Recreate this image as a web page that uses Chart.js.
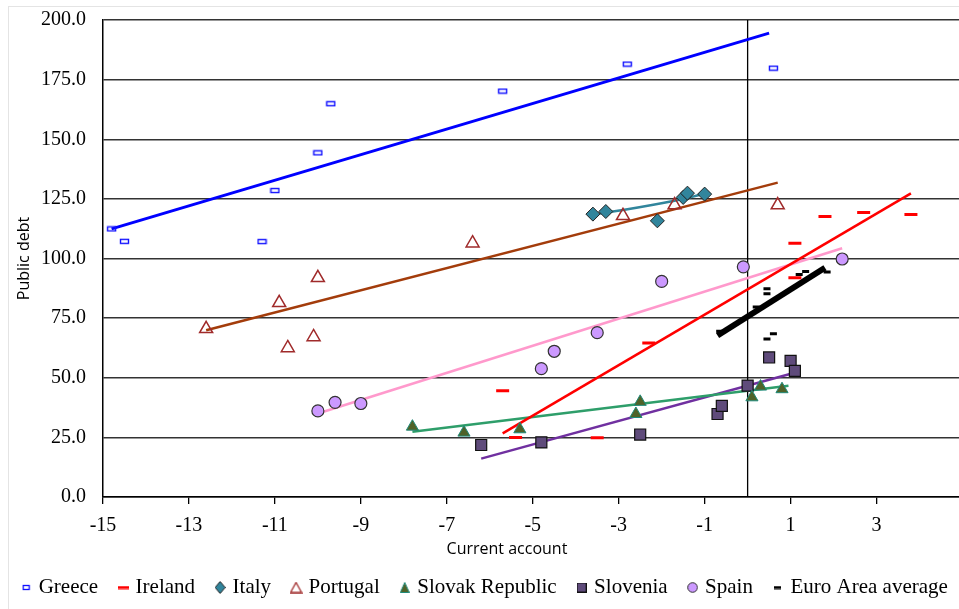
<!DOCTYPE html>
<html>
<head>
<meta charset="utf-8">
<script src="https://cdn.jsdelivr.net/npm/chart.js@4.4.1/dist/chart.umd.min.js"></script>
<style>
  html, body { margin: 0; padding: 0; background: #fff; }
  #canvasArea { position: relative; width: 959px; height: 609px; overflow: hidden; }
  #frame { position: absolute; left: 8px; top: 6px; width: 1000px; height: 700px; border: 1px solid #e4e4e4; }
  #graphCanvas { position: absolute; left: 0; top: 0; }
</style>
</head>
<body>
<div id="canvasArea"><div id="frame"></div><canvas id="graphCanvas" width="972" height="609"></canvas></div>
<script>
// values (current account, public debt)
var greeceX = [-14.8, -14.5, -11.3, -11.0, -10.0, -9.7, -5.7, -2.8, 0.6];
var greeceY = [112.4, 107.2, 107.1, 128.5, 144.3, 164.9, 170.2, 181.5, 179.8];
var greeceTrendX = [-14.8, 0.5];
var greeceTrendY = [112.4, 194.5];

var irelandX = [-5.7, -5.4, -3.5, -2.3, 1.1, 1.1, 1.8, 2.7, 3.8];
var irelandY = [44.6, 25.0, 24.8, 64.6, 106.4, 91.9, 117.6, 119.3, 118.4];
var irelandTrendX = [-5.7, 3.8];
var irelandTrendY = [26.7, 127.3];

var italyX = [-3.6, -3.3, -2.1, -1.5, -1.4, -1.0];
var italyY = [118.6, 119.7, 115.8, 125.6, 127.4, 127.0];
var italyTrendX = [-3.45, -2.9, -1.7, -1.1];
var italyTrendY = [118.9, 120.3, 124.2, 126.7];

var portugalX = [-12.6, -10.9, -10.7, -10.1, -10.0, -6.4, -2.9, -1.7, 0.7];
var portugalY = [70.5, 81.4, 62.5, 67.1, 91.9, 106.4, 117.9, 122.4, 122.4];
var portugalTrendX = [-12.6, 0.7];
var portugalTrendY = [69.9, 131.8];

var slovakX = [-7.8, -6.6, -5.3, -2.6, -2.5, 0.1, 0.3, 0.8];
var slovakY = [29.5, 27.0, 28.4, 34.8, 39.9, 41.8, 46.3, 45.2];
var slovakTrendX = [-7.8, 0.95];
var slovakTrendY = [27.4, 46.6];

var sloveniaX = [-6.2, -4.8, -2.5, -0.7, -0.6, 0.0, 0.5, 1.0, 1.1];
var sloveniaY = [21.8, 22.9, 26.2, 34.8, 38.2, 46.7, 58.5, 57.1, 52.9];
var sloveniaTrendX = [-6.2, 1.05];
var sloveniaTrendY = [16.1, 51.9];

var spainX = [-10.0, -9.6, -9.0, -4.8, -4.5, -3.5, -2.0, -0.1, 2.2];
var spainY = [36.1, 39.7, 39.2, 53.8, 61.1, 68.9, 90.4, 96.5, 99.8];
var spainTrendX = [-10.0, 2.2];
var spainTrendY = [35.0, 104.3];

var euroX = [-0.65, 0.2, 0.45, 0.45, 0.45, 0.6, 1.2, 1.35, 1.85];
var euroY = [69.5, 79.7, 87.3, 85.2, 66.2, 68.5, 93.3, 94.6, 94.3];
var euroTrendX = [-0.7, 1.8];
var euroTrendY = [67.7, 96.1];

var zeroLineX = [0, 0];
var zeroLineY = [0, 200];

var seriesNames = ["Greece", "Ireland", "Italy", "Portugal", "Slovak Republic", "Slovenia", "Spain", "Euro Area average"];
var xTickValues = [-15, -13, -11, -9, -7, -5, -3, -1, 1, 3];
var xTitle = "Current account";
var xTitleAt = -5.6;

function pts(xs, ys) {
  return xs.map(function (x, i) { return { x: x, y: ys[i] }; });
}

// small canvases used as marker images
function marker(w, h, draw) {
  var c = document.createElement("canvas");
  c.width = w; c.height = h;
  draw(c.getContext("2d"), w, h);
  return c;
}
var greeceMark = marker(11, 7, function (g) {
  g.strokeStyle = "#1010ff"; g.lineWidth = 1.4; g.strokeRect(1.5, 1.5, 8, 4);
});
var legendMarks = [
  marker(9, 7, function (g) { g.strokeStyle = "#1010ff"; g.lineWidth = 1.3; g.strokeRect(1.5, 1.5, 6, 4); }),
  marker(11, 4, function (g) { g.fillStyle = "#ff0000"; g.fillRect(0, 0.5, 11, 3); }),
  marker(11, 13, function (g) {
    g.beginPath(); g.moveTo(5.5, 0.5); g.lineTo(10.5, 6.5); g.lineTo(5.5, 12.5); g.lineTo(0.5, 6.5); g.closePath();
    g.fillStyle = "#31859c"; g.fill(); g.strokeStyle = "#222"; g.lineWidth = 1; g.stroke();
  }),
  marker(13, 12, function (g) {
    g.beginPath(); g.moveTo(6.5, 1); g.lineTo(12, 11); g.lineTo(1, 11); g.closePath();
    g.strokeStyle = "#a02b2b"; g.lineWidth = 1.3; g.stroke();
  }),
  marker(10, 11, function (g) {
    g.beginPath(); g.moveTo(5, 0.5); g.lineTo(9.5, 10.5); g.lineTo(0.5, 10.5); g.closePath();
    g.fillStyle = "#4f6228"; g.fill(); g.strokeStyle = "#1f8a7a"; g.lineWidth = 1; g.stroke();
  }),
  marker(10, 10, function (g) {
    g.fillStyle = "#5f4b7b"; g.fillRect(0.5, 0.5, 9, 9); g.strokeStyle = "#111"; g.lineWidth = 1; g.strokeRect(0.5, 0.5, 9, 9);
  }),
  marker(11, 11, function (g) {
    g.beginPath(); g.arc(5.5, 5.5, 4.8, 0, Math.PI * 2);
    g.fillStyle = "#cc99ff"; g.fill(); g.strokeStyle = "#333"; g.lineWidth = 1; g.stroke();
  }),
  marker(7, 4, function (g) { g.fillStyle = "#000"; g.fillRect(0, 0.5, 7, 3); })
];

function trend(xs, ys, color, width, tension) {
  return {
    data: pts(xs, ys), showLine: true, borderColor: color, borderWidth: width,
    pointRadius: 0, pointHoverRadius: 0, fill: false, tension: tension || 0
  };
}

var datasets = [
  { label: seriesNames[0], data: pts(greeceX, greeceY), pointStyle: greeceMark, pointRadius: 5 },
  { label: seriesNames[1], data: pts(irelandX, irelandY), pointStyle: "line", pointRadius: 6.5,
    borderColor: "#ff0000", pointBorderWidth: 3, backgroundColor: "#ff0000" },
  { label: seriesNames[2], data: pts(italyX, italyY), pointStyle: "rectRot", pointRadius: 7,
    backgroundColor: "#31859c", borderColor: "#222", pointBorderWidth: 1 },
  { label: seriesNames[3], data: pts(portugalX, portugalY), pointStyle: "triangle", pointRadius: 7.5,
    backgroundColor: "rgba(255,255,255,0)", borderColor: "#a02b2b", pointBorderWidth: 1.5 },
  { label: seriesNames[4], data: pts(slovakX, slovakY), pointStyle: "triangle", pointRadius: 7,
    backgroundColor: "#4f6228", borderColor: "#1f8a7a", pointBorderWidth: 1 },
  { label: seriesNames[5], data: pts(sloveniaX, sloveniaY), pointStyle: "rect", pointRadius: 7.8,
    backgroundColor: "#5f4b7b", borderColor: "#111", pointBorderWidth: 1.2 },
  { label: seriesNames[6], data: pts(spainX, spainY), pointStyle: "circle", pointRadius: 6,
    backgroundColor: "#cc99ff", borderColor: "#333", pointBorderWidth: 1.2 },
  { label: seriesNames[7], data: pts(euroX, euroY), pointStyle: "line", pointRadius: 3.5,
    borderColor: "#000", pointBorderWidth: 3, backgroundColor: "#000" },
  trend(euroTrendX, euroTrendY, "#000", 6),
  trend(italyTrendX, italyTrendY, "#31859c", 2.5, 0.4),
  trend(greeceTrendX, greeceTrendY, "#0000ff", 3),
  trend(irelandTrendX, irelandTrendY, "#ff0000", 2.5),
  trend(portugalTrendX, portugalTrendY, "#a33c0b", 2.5),
  trend(slovakTrendX, slovakTrendY, "#2e9e6a", 2.5),
  trend(sloveniaTrendX, sloveniaTrendY, "#7030a0", 2.5),
  trend(spainTrendX, spainTrendY, "#ff99cc", 2.5),
  trend(zeroLineX, zeroLineY, "#000", 1.3)
];

var serif = "'Liberation Serif', 'Times New Roman', serif";
var sans = "'Open Sans', 'Noto Sans', sans-serif";

// x axis title sits left of the axis centre in the original
var xTitlePlugin = {
  id: "xTitle",
  afterDraw: function (chart) {
    var sx = chart.scales.x;
    var ctx = chart.ctx;
    ctx.save();
    ctx.font = "16px " + sans;
    ctx.fillStyle = "#000";
    ctx.textAlign = "center";
    ctx.textBaseline = "middle";
    ctx.fillText(xTitle, sx.getPixelForValue(xTitleAt), sx.bottom - 5);
    ctx.restore();
  }
};

var graphTarget = document.getElementById("graphCanvas");
var scatter = new Chart(graphTarget, {
  type: "scatter",
  data: { datasets: datasets },
  plugins: [xTitlePlugin],
  options: {
    responsive: false,
    animation: false,
    events: [],
    layout: { padding: { top: 20, right: 0, bottom: 1, left: 0 } },
    plugins: {
      tooltip: { enabled: false },
      legend: {
        position: "bottom",
        labels: {
          color: "#000",
          font: { family: serif, size: 21 },
          usePointStyle: true,
          pointStyleWidth: 4,
          boxHeight: 12,
          padding: 23,
          filter: function (item) { return item.datasetIndex < seriesNames.length; },
          generateLabels: function (chart) {
            return seriesNames.map(function (name, i) {
              return {
                text: name, datasetIndex: i, pointStyle: legendMarks[i],
                fillStyle: "#000", strokeStyle: "#000", lineWidth: 0, hidden: false, fontColor: "#000"
              };
            });
          }
        }
      }
    },
    scales: {
      x: {
        type: "linear",
        min: -15,
        max: 5,
        afterBuildTicks: function (axis) {
          axis.ticks = xTickValues.map(function (v) { return { value: v }; });
        },
        afterFit: function (scale) { scale.height = 57; },
        ticks: { color: "#000", font: { family: serif, size: 20 }, padding: 10, maxRotation: 0,
          callback: function (v) { return String(v); } },
        grid: { drawOnChartArea: false, drawTicks: true, tickLength: 7, color: "#000", lineWidth: 1.3 },
        border: { display: true, color: "#000", width: 1.5 },
        title: { display: false }
      },
      y: {
        min: 0,
        max: 200,
        afterFit: function (scale) { scale.width = 103; },
        ticks: { stepSize: 25, color: "#000", font: { family: serif, size: 20 }, padding: 0,
          callback: function (v) { return v.toFixed(1); } },
        grid: { color: "#333", lineWidth: 1.4, drawTicks: true, tickLength: 17, tickColor: "rgba(0,0,0,0)" },
        border: { display: true, color: "#000", width: 1.5 },
        title: { display: true, text: "Public debt", color: "#000",
          font: { family: sans, size: 16 }, padding: { top: 15, bottom: 0 } }
      }
    }
  }
});
</script>
</body>
</html>
